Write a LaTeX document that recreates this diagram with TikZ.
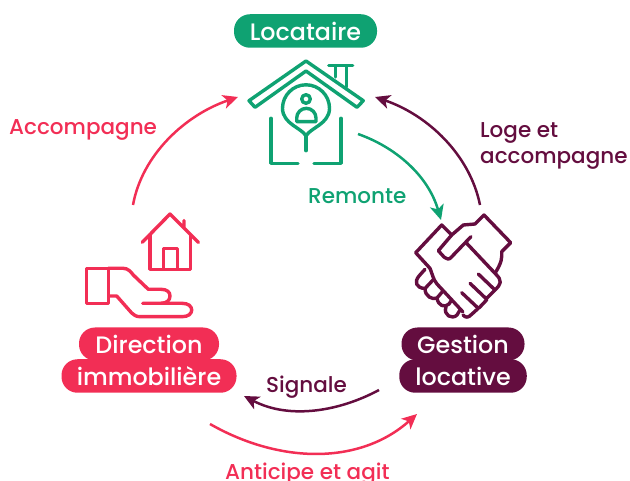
\documentclass[tikz,border=0pt]{standalone}
\usepackage{fontspec}
\setmainfont{Poppins}[UprightFont=* Medium]
\usetikzlibrary{arrows.meta}
\definecolor{vert}{HTML}{0FA272}
\definecolor{rouge}{HTML}{F22E55}
\definecolor{prune}{HTML}{640D3F}
\tikzset{
  pill/.style={fill=#1,rounded corners=16pt,text=white,inner sep=0pt,font=\fontsize{23.8}{26}\selectfont},
  lab/.style={text=#1,inner sep=0pt,font=\fontsize{21.5}{26}\selectfont,align=left},
  icon/.style={draw=#1,line width=3.4pt,line join=round,line cap=round},
  flow/.style={draw=#1,line width=2.5pt,-{Stealth[length=15pt,width=14pt,inset=4pt]}},
}
\begin{document}
\begin{tikzpicture}[x=1pt,y=-1pt]
\useasboundingbox (0,0) rectangle (630,481);
% pills
\node[pill=vert,minimum width=143pt,minimum height=33.5pt] (loc) at (305.5,31) {Locataire};
\node[pill=rouge,minimum width=140pt,minimum height=33pt] (dir) at (149,344) {Direction};
\node[pill=rouge,minimum width=175pt,minimum height=33.5pt] (imm) at (149,376) {immobilière};
\node[pill=prune,minimum width=123pt,minimum height=33pt] (ges) at (463,344) {Gestion};
\node[pill=prune,minimum width=127.5pt,minimum height=33.5pt] (loca) at (463,376) {locative};
% labels
\node[lab=rouge,anchor=west] (acc) at (9,130) {Accompagne};
\node[lab=prune,anchor=north west] (loge) at (480,122) {Loge et\\accompagne};
\node[lab=vert,anchor=west] (rem) at (308,196) {Remonte};
\node[lab=prune,anchor=west] (sig) at (266,387) {Signale};
\node[lab=rouge,anchor=west] (ant) at (225,474) {Anticipe et agit};
% anchors of connectors
\coordinate (a1) at (133,205); \coordinate (a2) at (238,97);
\coordinate (b1) at (480,205); \coordinate (b2) at (375,97);
\coordinate (c1) at (358,134); \coordinate (c2) at (441,220);
\coordinate (d1) at (379,390); \coordinate (d2) at (244,396);
\coordinate (e1) at (210,424); \coordinate (e2) at (417,414);
\draw[flow=rouge] (a1) .. controls (142,155) and (185,115) .. (a2);
\draw[flow=prune] (b1) .. controls (470,155) and (428,115) .. (b2);
\draw[flow=vert] (c1) .. controls (395,147) and (428,175) .. (c2);
\draw[flow=prune] (d1) .. controls (340,411) and (290,420) .. (d2);
\draw[flow=rouge] (e1) .. controls (280,464) and (360,465) .. (e2);
% house
\draw[icon=vert] (306,61) -- (363.3,100.7) -- (357,107.3) -- (306,71) -- (255,107.3) -- (249,100.7) -- cycle;
\draw[icon=vert] (328.7,65.7) -- (352.7,65.7) (335.3,65.7) -- (335.3,77) (346.7,65.7) -- (346.7,87);
\draw[icon=vert] (271,118.3) -- (271,163.3) -- (298,163.3);
\draw[icon=vert] (341,118.3) -- (341,163.3) -- (314,163.3);
\draw[icon=vert] (306,150.7) -- (306,136);
\draw[icon=vert] (306,136) .. controls (302,128) and (282.5,124) .. (282.5,108.3)
  arc[start angle=180,end angle=360,radius=23.5]
  .. controls (329.5,124) and (310,128) .. (306,136);
\draw[icon=vert] (306,99) circle[radius=4.3];
\draw[icon=vert] (296.7,121.7) -- (316,121.7) -- (316,118) arc[start angle=0,end angle=-180,radius=9.65] -- cycle;
% handshake
\begin{scope}[icon=prune]
\draw (451.7,235) -- (441.7,225) -- (415.7,252.7) -- (430,268.3);
\draw (430,268.3) .. controls (433,276) and (433,279) .. (437,284) -- (463,312);
\draw (451.7,235) -- (463.3,225) -- (475,224) -- (484,215) -- (510.7,242.7) -- (501.7,251.7) .. controls (502,258) and (502,262) .. (495,273.3);
\draw (471,236.7) -- (451,257.5) .. controls (449,260) and (447,259) .. (444,257) -- (438.3,250.7) -- (451.7,235);
\draw (466.7,243.3) -- (495,273.3) .. controls (503,281) and (501,284) .. (495,290) -- (478.3,274);
\draw (495,290) -- (487,298) (470,283.3) -- (487,299.5) -- (479,308) (461.7,292.7) -- (478.3,308.3) -- (472,314) .. controls (468,318) and (466,318) .. (463,315);
\draw (425,269.3) -- (419,276) .. controls (414,282) and (416,288) .. (425,288.5) -- (433,280);
\draw (425,288.5) .. controls (425,297) and (433,300) .. (437,298) -- (443,291);
\draw (437,298) .. controls (438,306) and (445,308) .. (449,304) -- (451,301);
\draw (446,307) .. controls (443,315) and (452,320) .. (457,315) -- (460,310);
\end{scope}
% hand and little house
\draw[icon=rouge] (142.3,242.3) -- (170,214) -- (198.3,242.3) (184,220.7) -- (184,228);
\draw[icon=rouge] (150,235) -- (150,269.3) -- (190.7,269.3) -- (190.7,235);
\draw[icon=rouge] (163.3,269.3) -- (163.3,248.3) -- (177.7,248.3) -- (177.7,269.3);
\draw[icon=rouge] (108.3,268.3) -- (86.7,268.3) -- (86.7,303.3) -- (108.3,303.3) -- cycle;
\draw[icon=rouge] (108.3,268.3) -- (123.3,268.3) .. controls (128,268.3) and (131,272) .. (133.3,275) -- (148.3,289.3) -- (161,289.3) .. controls (167,289.3) and (170,292) .. (170,296) .. controls (170,300) and (167,303.3) .. (161,303.3) -- (142.7,303.3);
\draw[icon=rouge] (161,303.3) -- (182,303.3) .. controls (188,303.3) and (191.7,306) .. (191.7,310) .. controls (191.7,314) and (188,316.7) .. (182,316.7) -- (140,316.7) .. controls (136,316.7) and (134,315) .. (131.7,313) -- (116.7,296) -- (109.3,296);
\end{tikzpicture}
\end{document}
